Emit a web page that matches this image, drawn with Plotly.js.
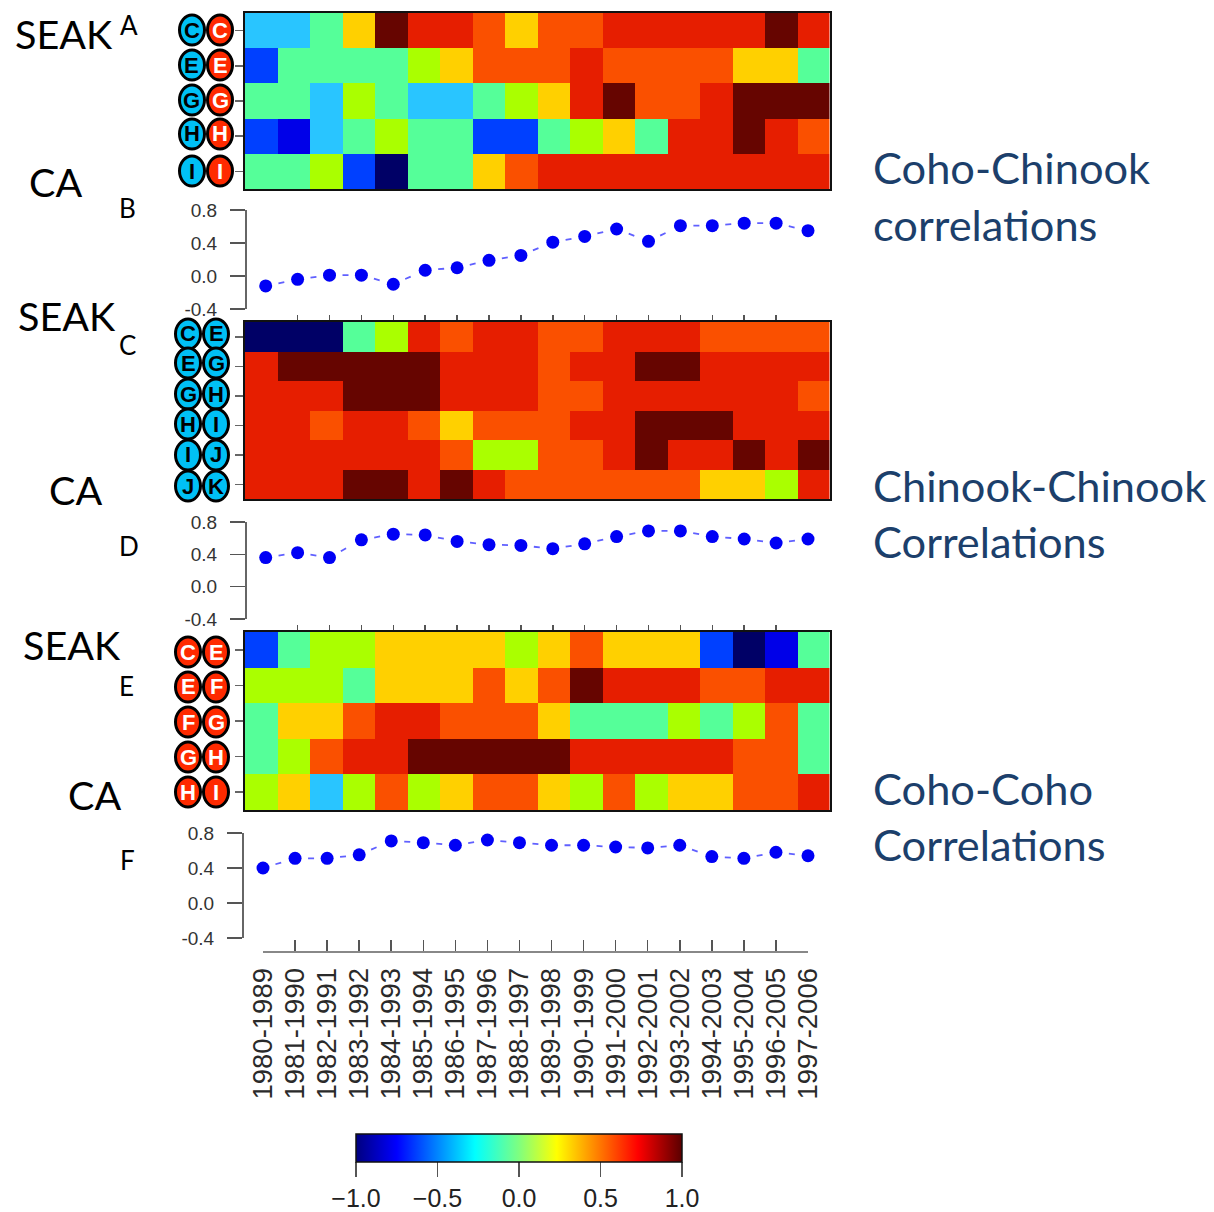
<!DOCTYPE html>
<html>
<head>
<meta charset="utf-8">
<script src="https://cdn.plot.ly/plotly-3.0.1.min.js"></script>
<style>html,body{margin:0;padding:0;background:#fff}#chart{width:1214px;height:1212px}</style>
</head>
<body>
<div id="chart"></div>
<script>
var W = 1214, H = 1212;

var periods = ["1980-1989","1981-1990","1982-1991","1983-1992","1984-1993","1985-1994","1986-1995","1987-1996","1988-1997","1989-1998","1990-1999","1991-2000","1992-2001","1993-2002","1994-2003","1995-2004","1996-2005","1997-2006"];

var rowsA = ["C-C","E-E","G-G","H-H","I-I"];
var heatA = [
  [-0.3,-0.3,-0.1,0.3,0.9,0.7,0.7,0.5,0.3,0.5,0.5,0.7,0.7,0.7,0.7,0.7,0.9,0.7],
  [-0.5,-0.1,-0.1,-0.1,-0.1,0.1,0.3,0.5,0.5,0.5,0.7,0.5,0.5,0.5,0.5,0.3,0.3,-0.1],
  [-0.1,-0.1,-0.3,0.1,-0.1,-0.3,-0.3,-0.1,0.1,0.3,0.7,0.9,0.5,0.5,0.7,0.9,0.9,0.9],
  [-0.5,-0.7,-0.3,-0.1,0.1,-0.1,-0.1,-0.5,-0.5,-0.1,0.1,0.3,-0.1,0.7,0.7,0.9,0.7,0.5],
  [-0.1,-0.1,0.1,-0.5,-0.9,-0.1,-0.1,0.3,0.5,0.7,0.7,0.7,0.7,0.7,0.7,0.7,0.7,0.7]
];
var rowsC = ["C-E","E-G","G-H","H-I","I-J","J-K"];
var heatC = [
  [-0.9,-0.9,-0.9,-0.1,0.1,0.7,0.5,0.7,0.7,0.5,0.5,0.7,0.7,0.7,0.5,0.5,0.5,0.5],
  [0.7,0.9,0.9,0.9,0.9,0.9,0.7,0.7,0.7,0.5,0.7,0.7,0.9,0.9,0.7,0.7,0.7,0.7],
  [0.7,0.7,0.7,0.9,0.9,0.9,0.7,0.7,0.7,0.5,0.5,0.7,0.7,0.7,0.7,0.7,0.7,0.5],
  [0.7,0.7,0.5,0.7,0.7,0.5,0.3,0.5,0.5,0.5,0.7,0.7,0.9,0.9,0.9,0.7,0.7,0.7],
  [0.7,0.7,0.7,0.7,0.7,0.7,0.5,0.1,0.1,0.5,0.5,0.7,0.9,0.7,0.7,0.9,0.7,0.9],
  [0.7,0.7,0.7,0.9,0.9,0.7,0.9,0.7,0.5,0.5,0.5,0.5,0.5,0.5,0.3,0.3,0.1,0.7]
];
var rowsE = ["C-E","E-F","F-G","G-H","H-I"];
var heatE = [
  [-0.5,-0.1,0.1,0.1,0.3,0.3,0.3,0.3,0.1,0.3,0.5,0.3,0.3,0.3,-0.5,-0.9,-0.7,-0.1],
  [0.1,0.1,0.1,-0.1,0.3,0.3,0.3,0.5,0.3,0.5,0.9,0.7,0.7,0.7,0.5,0.5,0.7,0.7],
  [-0.1,0.3,0.3,0.5,0.7,0.7,0.5,0.5,0.5,0.3,-0.1,-0.1,-0.1,0.1,-0.1,0.1,0.5,-0.1],
  [-0.1,0.1,0.5,0.7,0.7,0.9,0.9,0.9,0.9,0.9,0.7,0.7,0.7,0.7,0.7,0.5,0.5,-0.1],
  [0.1,0.3,-0.3,0.1,0.5,0.1,0.3,0.5,0.5,0.3,0.1,0.5,0.1,0.3,0.3,0.5,0.5,0.7]
];
var lineB = [-0.12,-0.04,0.01,0.01,-0.10,0.07,0.10,0.19,0.25,0.41,0.48,0.57,0.42,0.61,0.61,0.64,0.64,0.55];
var lineD = [0.36,0.42,0.36,0.58,0.65,0.64,0.56,0.52,0.51,0.47,0.53,0.62,0.69,0.69,0.62,0.59,0.54,0.59];
var lineF = [0.40,0.51,0.51,0.55,0.71,0.69,0.66,0.72,0.69,0.66,0.66,0.64,0.63,0.66,0.53,0.51,0.58,0.54];

var yTickVals = [-0.4,0,0.4,0.8];
var yTickText = ["-0.4","0.0","0.4","0.8"];
var binColors = ["#000066","#0000e8","#0040ff","#29c5ff","#55ff99","#aaff00","#ffd000","#fa5000","#e61e00","#660500"];
var jet = [[0,"#00007f"],[0.125,"#0000ff"],[0.365,"#00ffff"],[0.5,"#7fff7f"],[0.616,"#ffff00"],[0.865,"#ff0000"],[1,"#5a0000"]];

function px(v){return v/W;}
function py(v){return 1-v/H;}

var stepped = [];
binColors.forEach(function(c,i){stepped.push([i/10,c]);stepped.push([(i+1)/10,c]);});

var traces = [], layout = {
  width:W,height:H,margin:{l:0,r:0,t:0,b:0,autoexpand:false},paper_bgcolor:"#fff",plot_bgcolor:"rgba(0,0,0,0)",
  showlegend:false,shapes:[],annotations:[],font:{family:"Liberation Sans, Arial, sans-serif",color:"#333"}
};

function heat(n, z, top, bottom){
  var yk = "y"+n, xk="x"+n;
  traces.push({type:"heatmap",z:z,x:periods.map(function(_,i){return i;}),y:z.map(function(_,i){return i;}),xaxis:xk,yaxis:yk,
    zmin:-1,zmax:1,colorscale:stepped,showscale:false,zsmooth:false,hoverinfo:"skip"});
  layout["xaxis"+n] = {domain:[px(245),px(829.5)],range:[-0.5,17.5],anchor:yk,showgrid:false,zeroline:false,
    showticklabels:false,ticks:"",showline:true,mirror:true,linecolor:"#111",linewidth:2};
  layout["yaxis"+n] = {domain:[py(bottom),py(top)],range:[z.length-0.5,-0.5],anchor:xk,showgrid:false,zeroline:false,
    showticklabels:false,ticks:"outside",ticklen:8,tickwidth:1.5,tickcolor:"#666",tickvals:z.map(function(_,i){return i;}),
    showline:true,mirror:true,linecolor:"#111",linewidth:2};
}
function line(n, vals, top, bottom, axisX, axisY, startX, isLast){
  var yk = "y"+n, xk="x"+n;
  for (var i=0;i<vals.length-1;i++){
    traces.push({type:"scatter",mode:"lines",x:[periods[i],periods[i+1]],y:[vals[i],vals[i+1]],xaxis:xk,yaxis:yk,cliponaxis:false,
      line:{color:"#6060ff",width:1.8,dash:"0px,13px,6px,40px"},hoverinfo:"skip"});
  }
  traces.push({type:"scatter",mode:"markers",x:periods,y:vals,xaxis:xk,yaxis:yk,cliponaxis:false,
    marker:{color:"#0000f5",size:13,line:{color:"#fff",width:0}},hoverinfo:"skip"});
  layout["xaxis"+n] = {domain:[px(startX),px(808)],range:[0,17],type:"category",categoryorder:"array",categoryarray:periods,anchor:"free",position:py(axisY),side:"bottom",
    showgrid:false,zeroline:false,ticks:"inside",ticklen:isLast?11:7,tickwidth:1.5,tickcolor:"#555",
    tickmode:"array",tickvals:periods,ticktext:periods,showticklabels:!!isLast,tickangle:-90,ticklabelstandoff:4,
    tickfont:{size:27.5,color:"#2a2a2a"},showline:!!isLast,linecolor:"#888",linewidth:2};
  layout["yaxis"+n] = {domain:[py(bottom),py(top)],range:[-0.4,0.8],anchor:"free",position:px(axisX),side:"left",
    showgrid:false,zeroline:false,ticks:"outside",ticklen:15,tickwidth:1.5,tickcolor:"#555",ticklabelstandoff:9,
    tickvals:yTickVals,ticktext:yTickText,tickfont:{size:19,color:"#333"},showline:true,linecolor:"#666",linewidth:1.5};
}

heat(1, heatA, 13, 189);
line(2, lineB, 210, 309, 245, 322, 265.7, false);
heat(3, heatC, 322, 499);
line(4, lineD, 522, 619, 245, 632, 265.7, false);
heat(5, heatE, 632, 810);
line(6, lineF, 833, 938, 242, 952, 263, true);

// colour key
traces.push({type:"scatter",mode:"markers",x:[periods[0],periods[0]],y:[0,0],xaxis:"x6",yaxis:"y6",opacity:0,hoverinfo:"skip",
  marker:{size:1,color:[-1,1],cmin:-1,cmax:1,colorscale:jet,showscale:true,
    colorbar:{orientation:"h",xref:"paper",yref:"paper",x:px(356),xanchor:"left",y:py(1134),yanchor:"top",
      len:326,lenmode:"pixels",thickness:28,thicknessmode:"pixels",xpad:0,ypad:0,
      outlinecolor:"#111",outlinewidth:1.5,ticks:"outside",ticklen:15,tickwidth:1.5,tickcolor:"#555",
      tickvals:[-1,-0.5,0,0.5,1],tickformat:".1f",tickfont:{size:25,color:"#222"}}}});

// badges
function badge(cx,cy,fill,letter,txt){
  layout.shapes.push({type:"circle",xref:"paper",yref:"paper",x0:px(cx-12.5),x1:px(cx+12.5),y0:py(cy+15),y1:py(cy-15),
    fillcolor:fill,line:{color:"#000",width:3},layer:"above"});
  layout.annotations.push({xref:"paper",yref:"paper",x:px(cx),y:py(cy),xanchor:"center",yanchor:"middle",showarrow:false,
    text:"<b>"+letter+"</b>",font:{family:"Liberation Sans",size:22,color:txt}});
}
var CY="#00c0f5", RD="#ff2a00";
function badges(rows, ys, xl, xr, cl, tl, cr, tr){
  rows.forEach(function(r,i){var p=r.split("-");badge(xl,ys[i],cl,p[0],tl);badge(xr,ys[i],cr,p[1],tr);});
}
badges(rowsA,[30,65,100,134,171],192,220,CY,"#000",RD,"#fff");
badges(rowsC,[334,363,394,424,455,486],188,216,CY,"#000",CY,"#000");
badges(rowsE,[652,687,722,757,792],188,216,RD,"#fff",RD,"#fff");

function label(text,x,y,size,color){
  layout.annotations.push({xref:"paper",yref:"paper",x:px(x),y:py(y),xanchor:"left",yanchor:"middle",showarrow:false,
    text:text,font:{family:"Lato",size:size,color:color}});
}
[["SEAK",13,33],["CA",27,182],["SEAK",16,315],["CA",47,489],["SEAK",21,644],["CA",66,794]].forEach(function(a){label(a[0],a[1],a[2],39.5,"#000");});
[["A",118,25],["B",117,208],["C",117,345],["D",117,546],["E",117,686],["F",118,860]].forEach(function(a){label(a[0],a[1],a[2],26,"#000");});
[["Coho-Chinook",871,167.5],["correlations",871,223.5],["Chinook-Chinook",871,484.5],["Correlations",871,540.5],["Coho-Coho",871,788.5],["Correlations",871,844.5]].forEach(function(a){label(a[0],a[1],a[2],43.4,"#1c3f6b");});

Plotly.newPlot("chart",traces,layout,{staticPlot:true,displayModeBar:false});
</script>
</body>
</html>
